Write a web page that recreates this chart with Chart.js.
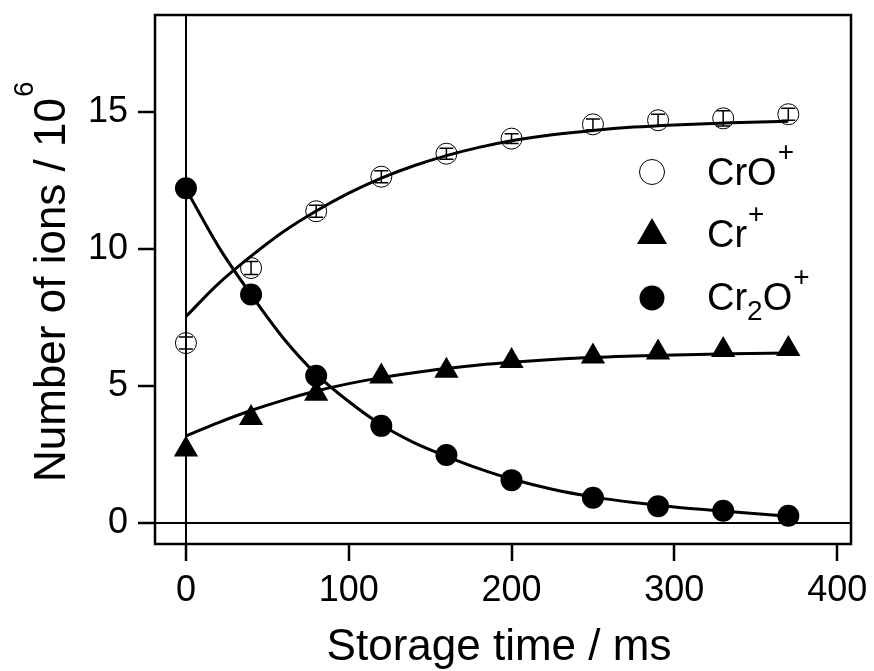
<!DOCTYPE html>
<html>
<head>
<meta charset="utf-8">
<script src="https://cdn.jsdelivr.net/npm/chart.js@4"></script>
<style>
  body { margin: 0; background: #fff; }
  #chart { display: block; }
</style>
</head>
<body>
<canvas id="chart" width="874" height="671"></canvas>
<script>
// measured points
const times = [0, 40, 80, 120, 160, 200, 250, 290, 330, 370];
const croValues = [6.58, 9.32, 11.39, 12.65, 13.49, 14.04, 14.56, 14.71, 14.78, 14.93];
const croErrors = [0.22, 0.24, 0.22, 0.22, 0.2, 0.18, 0.2, 0.22, 0.28, 0.22];
const crValues = [2.70, 3.85, 4.73, 5.36, 5.57, 5.93, 6.09, 6.24, 6.33, 6.36];
const cr2oValues = [12.23, 8.35, 5.39, 3.56, 2.50, 1.58, 0.94, 0.63, 0.46, 0.28];

// fit curves
const fitTimes = [0, 20, 40, 60, 80, 100, 120, 140, 160, 180, 200, 225, 250, 275, 300, 335, 370];
const croFit = [7.55, 8.75, 9.75, 10.65, 11.4, 12.05, 12.6, 13.05, 13.42, 13.72, 13.96, 14.18, 14.34, 14.46, 14.54, 14.62, 14.67];
const crFit = [3.19, 3.68, 4.12, 4.5, 4.83, 5.1, 5.32, 5.5, 5.65, 5.78, 5.88, 5.98, 6.06, 6.11, 6.15, 6.19, 6.22];
const cr2oFit = [12.2, 10.1, 8.35, 6.75, 5.45, 4.45, 3.6, 2.95, 2.45, 2.0, 1.62, 1.25, 0.97, 0.76, 0.6, 0.43, 0.26];

const xTicks = [0, 100, 200, 300, 400];
const yTicks = [0, 5, 10, 15];

const FONT = '"Liberation Sans", Arial, Helvetica, sans-serif';

function pairs(xs, ys) {
    return xs.map((x, i) => ({ x: x, y: ys[i] }));
}

function fitDataset(values) {
    return {
        type: 'line',
        data: pairs(fitTimes, values),
        borderColor: '#000',
        borderWidth: 3,
        pointRadius: 0,
        cubicInterpolationMode: 'monotone',
        fill: false,
        order: 2
    };
}

// draws text made of runs like {text, size, dx, dy}
function drawRuns(ctx, runs, x, y) {
    runs.forEach(run => {
        ctx.font = run.size + 'px ' + FONT;
        ctx.fillText(run.text, x + (run.dx || 0), y + (run.dy || 0));
        x += (run.dx || 0) + ctx.measureText(run.text).width;
    });
    return x;
}

const decorPlugin = {
    id: 'decor',
    afterDatasetsDraw(chart) {
        const ctx = chart.ctx;
        const xs = chart.scales.x;
        const ys = chart.scales.y;
        ctx.save();
        ctx.strokeStyle = '#000';
        ctx.lineWidth = 1.5;
        times.forEach((t, i) => {
            const px = xs.getPixelForValue(t);
            const top = ys.getPixelForValue(croValues[i] + croErrors[i]);
            const bot = ys.getPixelForValue(croValues[i] - croErrors[i]);
            ctx.beginPath();
            ctx.moveTo(px, top);
            ctx.lineTo(px, bot);
            ctx.moveTo(px - 7, top);
            ctx.lineTo(px + 7, top);
            ctx.moveTo(px - 7, bot);
            ctx.lineTo(px + 7, bot);
            ctx.stroke();
        });
        ctx.restore();
    },
    afterDraw(chart) {
        const ctx = chart.ctx;
        const area = chart.chartArea;
        ctx.save();

        // frame
        ctx.strokeStyle = '#000';
        ctx.lineWidth = 2.5;
        ctx.strokeRect(area.left, area.top, area.right - area.left, area.bottom - area.top);

        ctx.fillStyle = '#000';
        ctx.textBaseline = 'alphabetic';

        // x title
        ctx.textAlign = 'center';
        ctx.font = '44px ' + FONT;
        ctx.fillText('Storage time / ms', 499, 660);

        // y title
        ctx.textAlign = 'left';
        ctx.save();
        ctx.translate(65, 482);
        ctx.rotate(-Math.PI / 2);
        drawRuns(ctx, [
            { text: 'Number of ions / 10', size: 44 },
            { text: '6', size: 28, dy: -32, dx: 1 }
        ], 0, 0);
        ctx.restore();

        // legend symbols
        ctx.lineWidth = 1;
        ctx.beginPath();
        ctx.arc(652, 172, 12.5, 0, Math.PI * 2);
        ctx.stroke();

        ctx.beginPath();
        ctx.moveTo(652, 218);
        ctx.lineTo(667, 244);
        ctx.lineTo(637, 244);
        ctx.closePath();
        ctx.fill();

        ctx.beginPath();
        ctx.arc(652, 298, 12.5, 0, Math.PI * 2);
        ctx.fill();

        // legend labels
        drawRuns(ctx, [
            { text: 'CrO', size: 38 },
            { text: '+', size: 28, dy: -24, dx: 1 }
        ], 707, 185);
        drawRuns(ctx, [
            { text: 'Cr', size: 38 },
            { text: '+', size: 28, dy: -24, dx: 1 }
        ], 707, 247);
        drawRuns(ctx, [
            { text: 'Cr', size: 38 },
            { text: '2', size: 28, dy: 10, dx: 0 },
            { text: 'O', size: 38 },
            { text: '+', size: 28, dy: -24, dx: 1 }
        ], 707, 310);

        ctx.restore();
    }
};

document.addEventListener('DOMContentLoaded', function() {
    const canvas = document.getElementById('chart');

    const zeroLine = ctx => (ctx.tick && ctx.tick.value === 0) ? '#000' : 'rgba(0,0,0,0)';

    new Chart(canvas, {
        type: 'scatter',
        data: {
            datasets: [
                {
                    label: 'CrO+',
                    data: pairs(times, croValues),
                    pointStyle: 'circle',
                    pointRadius: 10.5,
                    pointBackgroundColor: 'rgba(0,0,0,0)',
                    pointBorderColor: '#000',
                    pointBorderWidth: 1,
                    order: 0
                },
                {
                    label: 'Cr+',
                    data: pairs(times, crValues),
                    pointStyle: 'triangle',
                    pointRadius: 14,
                    pointBackgroundColor: '#000',
                    pointBorderColor: '#000',
                    pointBorderWidth: 0,
                    order: 0
                },
                {
                    label: 'Cr2O+',
                    data: pairs(times, cr2oValues),
                    pointStyle: 'circle',
                    pointRadius: 11,
                    pointBackgroundColor: '#000',
                    pointBorderColor: '#000',
                    pointBorderWidth: 0,
                    order: 0
                },
                fitDataset(croFit),
                fitDataset(crFit),
                fitDataset(cr2oFit)
            ]
        },
        options: {
            responsive: false,
            animation: false,
            layout: { padding: { top: 15, right: 23, left: 0, bottom: 0 } },
            plugins: {
                legend: { display: false },
                tooltip: { enabled: false }
            },
            scales: {
                x: {
                    type: 'linear',
                    min: -19,
                    max: 408.5,
                    afterBuildTicks: scale => { scale.ticks = xTicks.map(v => ({ value: v })); },
                    afterFit: scale => {
                        scale.height = 127;
                        scale.paddingLeft = 0;
                        scale.paddingRight = 0;
                    },
                    border: { display: false },
                    grid: {
                        color: zeroLine,
                        lineWidth: 2,
                        tickColor: '#000',
                        tickWidth: 2.5,
                        tickLength: 17
                    },
                    ticks: {
                        color: '#000',
                        padding: 8,
                        maxRotation: 0,
                        font: { family: FONT, size: 36 }
                    }
                },
                y: {
                    type: 'linear',
                    min: -0.75,
                    max: 18.55,
                    afterBuildTicks: scale => { scale.ticks = yTicks.map(v => ({ value: v })); },
                    afterFit: scale => {
                        scale.width = 155;
                        scale.paddingTop = 0;
                        scale.paddingBottom = 0;
                    },
                    border: { display: false },
                    grid: {
                        color: zeroLine,
                        lineWidth: 2,
                        tickColor: '#000',
                        tickWidth: 2.5,
                        tickLength: 17
                    },
                    ticks: {
                        color: '#000',
                        padding: 10,
                        font: { family: FONT, size: 36 }
                    }
                }
            }
        },
        plugins: [decorPlugin]
    });
});
</script>
</body>
</html>
